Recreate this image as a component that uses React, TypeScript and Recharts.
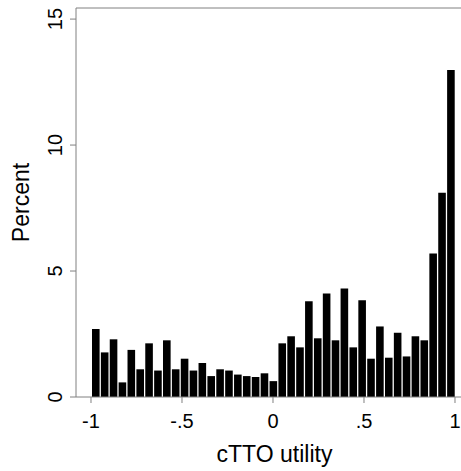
import React from "react";
import { BarChart, Bar, XAxis, YAxis, ReferenceLine } from "recharts";

// histogram of cTTO utility, 41 bins from -1 to 1
const binStart = -1;
const binWidth = 2 / 41;

const percents = [
    2.7, 1.77, 2.29, 0.58, 1.87, 1.1, 2.13, 1.05, 2.25, 1.1,
    1.52, 1.05, 1.35, 0.83, 1.1, 1.05, 0.89, 0.83, 0.79, 0.94,
    0.63, 2.13, 2.41, 1.97, 3.8, 2.33, 4.11, 2.25, 4.31, 1.97,
    3.84, 1.52, 2.8, 1.56, 2.55, 1.61, 2.41, 2.25, 5.7, 8.11,
    12.98,
];

const xTicks = [-1, -0.5, 0, 0.5, 1];
const xTickLabels = ["-1", "-.5", "0", ".5", "1"];
const yTicks = [0, 5, 10, 15];
const yMax = 15.44;

const data = percents.map((pct, i) => ({
    x: binStart + (i + 0.5) * binWidth,
    pct,
}));

const FONT = "'Liberation Sans', Arial, Helvetica, sans-serif";
const AXIS = "#808080";

const YTick = (props: any) => {
    const { x, y, payload } = props;
    return (
        <text
            transform={`translate(${x - 6},${y}) rotate(-90)`}
            textAnchor="middle"
            fontSize={20}
            fontFamily={FONT}
            fill="#000"
        >
            {payload.value}
        </text>
    );
};

const App: React.FC = () => {
    return (
        <div style={{ position: "absolute", left: 0, top: 0 }}>
            <BarChart
                width={461}
                height={471}
                data={data}
                margin={{ top: 8, right: 0, bottom: 0, left: 0 }}
            >
                <XAxis
                    type="number"
                    dataKey="x"
                    domain={[-1.0824, 1.033]}
                    ticks={xTicks}
                    interval={0}
                    height={74}
                    tickSize={6}
                    tickMargin={11}
                    tickFormatter={(v: number) => xTickLabels[xTicks.indexOf(v)] ?? String(v)}
                    tick={{ fontSize: 20, fill: "#000", fontFamily: FONT }}
                    tickLine={{ stroke: AXIS }}
                    axisLine={{ stroke: AXIS }}
                    label={{
                        content: ({ viewBox }: any) => (
                            <text
                                x={viewBox.x + viewBox.width / 2 + 6}
                                y={viewBox.y + 65}
                                textAnchor="middle"
                                fontSize={23}
                                fontFamily={FONT}
                                fill="#000"
                            >
                                cTTO utility
                            </text>
                        ),
                    }}
                />
                <YAxis
                    type="number"
                    domain={[0, yMax]}
                    allowDataOverflow
                    ticks={yTicks}
                    interval={0}
                    width={76}
                    tickSize={6}
                    tick={<YTick />}
                    tickLine={{ stroke: AXIS }}
                    axisLine={{ stroke: AXIS }}
                    label={{
                        content: ({ viewBox }: any) => (
                            <text
                                transform={`translate(29,${viewBox.y + viewBox.height / 2}) rotate(-90)`}
                                textAnchor="middle"
                                fontSize={23}
                                fontFamily={FONT}
                                fill="#000"
                            >
                                Percent
                            </text>
                        ),
                    }}
                />
                {/* top frame line */}
                <ReferenceLine y={yMax} stroke={AXIS} ifOverflow="visible" />
                <Bar dataKey="pct" fill="#000" barSize={7.6} isAnimationActive={false} />
            </BarChart>
        </div>
    );
};

export default App;
